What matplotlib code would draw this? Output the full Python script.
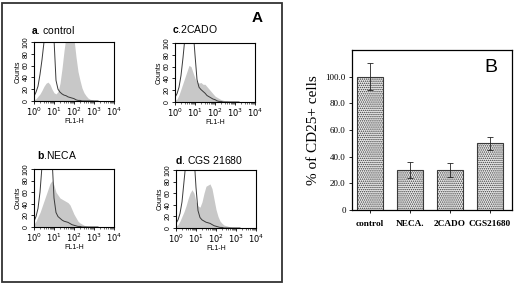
import matplotlib
matplotlib.use("Agg")
import matplotlib.pyplot as plt
from matplotlib.patches import Rectangle
from matplotlib.ticker import LogLocator, LogFormatterMathtext, NullFormatter

plt.rcParams['mathtext.fontset'] = 'custom'
plt.rcParams['mathtext.rm'] = 'Liberation Sans'
plt.rcParams['mathtext.bf'] = 'Liberation Sans:bold'
plt.rcParams['hatch.linewidth'] = 0.7

# ---------------- data ----------------
# FL1-H channel positions (decades, log10 of fluorescence)
fl1_decades = [0.0, 0.1, 0.2, 0.3, 0.4, 0.5, 0.6, 0.7, 0.8, 0.9, 1.0,
               1.1, 1.2, 1.3, 1.4, 1.5, 1.6, 1.7, 1.8, 1.9, 2.0,
               2.1, 2.2, 2.3, 2.4, 2.5, 2.6, 2.7, 2.8, 2.9, 3.0, 3.1, 3.2]

# open (isotype control) histograms
open_control = [8, 15, 25, 45, 70, 100, 130, 130, 130, 125, 105,
                35, 20, 15, 12, 10, 9, 7, 6, 5, 4,
                2, 1, 1, 0, 0, 0, 0, 0, 0, 0, 0, 0]
open_2cado = [8, 14, 25, 45, 75, 110, 130, 130, 130, 125, 80,
              38, 25, 21, 18, 15, 11, 9, 7, 5, 4,
              2, 1, 1, 0, 0, 0, 0, 0, 0, 0, 0, 0]
open_neca = [10, 18, 32, 60, 105, 130, 130, 130, 130, 120, 50,
             25, 18, 15, 12, 10, 9, 8, 6, 4, 3,
             2, 1, 1, 0, 0, 0, 0, 0, 0, 0, 0, 0]
open_cgs = [8, 14, 25, 45, 80, 115, 130, 130, 130, 125, 70,
            30, 18, 14, 12, 10, 9, 8, 6, 4, 3,
            2, 1, 1, 0, 0, 0, 0, 0, 0, 0, 0, 0]

# shaded (CD25 stained) histograms
shaded_control = [2, 4, 8, 12, 18, 25, 30, 32, 28, 20, 14,
                  12, 16, 30, 55, 85, 110, 120, 125, 120, 105,
                  75, 50, 35, 22, 14, 9, 5, 3, 2, 1, 0, 0]
shaded_2cado = [3, 5, 12, 22, 32, 42, 52, 62, 60, 50, 40,
                34, 32, 33, 30, 30, 26, 22, 18, 14, 10,
                8, 6, 4, 3, 2, 2, 1, 1, 0, 0, 0, 0]
shaded_neca = [5, 10, 18, 25, 35, 45, 55, 65, 75, 80, 72,
               60, 55, 50, 48, 46, 44, 42, 38, 30, 22,
               16, 10, 7, 5, 3, 2, 1, 1, 0, 0, 0, 0]
shaded_cgs = [3, 6, 12, 20, 28, 38, 50, 60, 66, 60, 45,
              38, 36, 45, 60, 72, 74, 76, 68, 50, 32,
              20, 12, 8, 5, 4, 3, 2, 1, 1, 0, 0, 0]

panel_titles = [r"$\bf{a}$. control", r"$\bf{c}$.2CADO",
                r"$\bf{b}$.NECA", r"$\bf{d}$. CGS 21680"]

# bar chart
treatments = ["control", "NECA.", "2CADO", "CGS21680"]
cd25_pct = [100.0, 30.0, 30.0, 50.0]
cd25_err = [10.0, 6.0, 5.0, 5.0]
ytick_vals = [0, 20, 40, 60, 80, 100]
ytick_labels = ["0", "20.0", "40.0", "60.0", "80.0", "100.0"]

# ---------------- figure ----------------
W, H = 520, 284
fig = plt.figure(figsize=(W / 100, H / 100), dpi=100)


def ax_px(l, t, r, b):
    return fig.add_axes([l / W, 1 - b / H, (r - l) / W, (b - t) / H])


# panel A frame
fig.patches.append(Rectangle((2 / W, 2 / H), 280 / W, 279 / H, transform=fig.transFigure,
                             fill=False, edgecolor='#333333', linewidth=1.3))
fig.text(257 / W, 1 - 18 / H, "A", fontsize=11, fontweight='bold',
         family='Liberation Sans', ha='center', va='center')

hist_boxes = [(34, 42, 114, 101), (175, 43, 255, 102), (34, 169, 114, 227), (176, 170, 256, 228)]
title_pos = [(31, 30), (172, 29), (37, 155), (175, 160)]
opens = [open_control, open_2cado, open_neca, open_cgs]
shadeds = [shaded_control, shaded_2cado, shaded_neca, shaded_cgs]

xs = [10 ** d for d in fl1_decades]
for box, tpos, op, sh, title in zip(hist_boxes, title_pos, opens, shadeds, panel_titles):
    ax = ax_px(*box)
    ax.fill_between(xs, 0, sh, color='#c8c8c8', linewidth=0)
    ax.plot(xs, op, color='#3a3a3a', linewidth=0.7)
    ax.set_xscale('log')
    ax.set_xlim(1, 1e4)
    ax.set_ylim(0, 100)
    ax.xaxis.set_major_locator(LogLocator(base=10, numticks=10))
    ax.xaxis.set_minor_locator(LogLocator(base=10, subs=range(2, 10), numticks=10))
    ax.xaxis.set_major_formatter(LogFormatterMathtext())
    ax.xaxis.set_minor_formatter(NullFormatter())
    ax.set_yticks([0, 20, 40, 60, 80, 100])
    ax.tick_params(axis='both', which='major', length=2, width=0.6, pad=1, labelsize=6)
    ax.tick_params(axis='x', which='minor', length=1.5, width=0.4)
    ax.tick_params(axis='y', labelrotation=90, labelsize=5)
    for lab in ax.get_yticklabels():
        lab.set_family('Liberation Sans')
        lab.set_va('center')
    ax.set_xlabel("FL1-H", fontsize=5, family='Liberation Sans', labelpad=0)
    ax.set_ylabel("Counts", fontsize=5, family='Liberation Sans', labelpad=1)
    for s in ax.spines.values():
        s.set_linewidth(0.8)
    fig.text(tpos[0] / W, 1 - tpos[1] / H, title, fontsize=7.5,
             family='Liberation Sans', ha='left', va='center')

# ---------------- panel B ----------------
axb = ax_px(352, 50, 512, 210)
pos = list(range(len(treatments)))
axb.bar(pos, cd25_pct, width=0.67, color='#ececec', edgecolor='#3a3a3a',
        hatch='........', linewidth=0.8)
axb.errorbar(pos, cd25_pct, yerr=cd25_err, fmt='none', ecolor='#222222',
             elinewidth=0.6, capsize=2, capthick=0.6)
axb.set_xlim(-0.45, 3.55)
axb.set_ylim(0, 120)
axb.set_yticks(ytick_vals)
axb.set_yticklabels(ytick_labels, family='Liberation Serif', fontsize=6.5)
axb.set_xticks(pos)
axb.set_xticklabels(treatments, family='Liberation Serif', fontsize=6.7, fontweight='bold')
axb.tick_params(axis='both', length=2.5, width=0.6, pad=2)
axb.tick_params(axis='x', pad=5)
axb.set_ylabel("% of CD25+ cells", family='Liberation Serif', fontsize=11, labelpad=4)
for s in axb.spines.values():
    s.set_linewidth(0.9)
axb.text(0.87, 0.89, "B", transform=axb.transAxes, fontsize=14,
         family='Liberation Sans', ha='center', va='center')

fig.savefig("out.png", dpi=100)
